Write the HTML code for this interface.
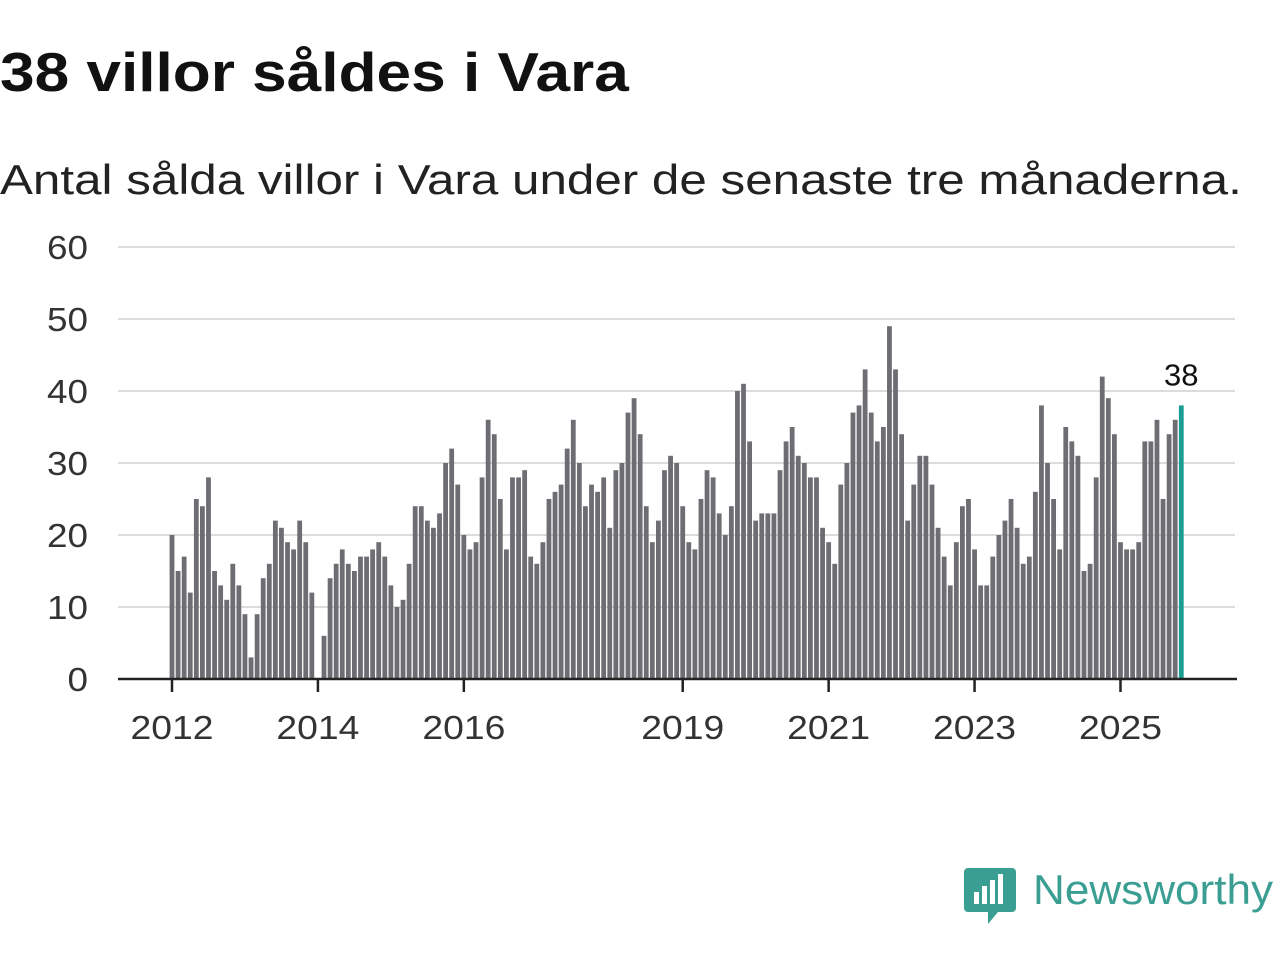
<!DOCTYPE html>
<html><head><meta charset="utf-8">
<style>
body{margin:0;width:1280px;height:960px;background:#fff;font-family:"Liberation Sans",sans-serif;overflow:hidden;position:relative}
h1{position:absolute;left:0;top:40px;margin:0;font-size:55px;font-weight:bold;color:#111;white-space:nowrap;transform:scaleX(1.13);transform-origin:0 0}
.sub{position:absolute;left:0;top:156px;font-size:42px;color:#222;white-space:nowrap;transform:scaleX(1.175);transform-origin:0 0}
svg{position:absolute;left:0;top:0}
</style></head><body>
<h1>38 villor såldes i Vara</h1>
<div class="sub">Antal sålda villor i Vara under de senaste tre månaderna.</div>
<svg id="chart" width="1280" height="960"></svg>
<script>
const startYear = 2012;
const values = [
20,15,17,12,25,24,28,15,13,11,16,13,
9,3,9,14,16,22,21,19,18,22,19,12,
0,6,14,16,18,16,15,17,17,18,19,17,
13,10,11,16,24,24,22,21,23,30,32,27,
20,18,19,28,36,34,25,18,28,28,29,17,
16,19,25,26,27,32,36,30,24,27,26,28,
21,29,30,37,39,34,24,19,22,29,31,30,
24,19,18,25,29,28,23,20,24,40,41,33,
22,23,23,23,29,33,35,31,30,28,28,21,
19,16,27,30,37,38,43,37,33,35,49,43,
34,22,27,31,31,27,21,17,13,19,24,25,
18,13,13,17,20,22,25,21,16,17,26,38,
30,25,18,35,33,31,15,16,28,42,39,34,
19,18,18,19,33,33,36,25,34,36,38];
const yTicks = [0,10,20,30,40,50,60];
const xTickYears = [2012,2014,2016,2019,2021,2023,2025];

const NS="http://www.w3.org/2000/svg";
const svg=document.getElementById('chart');
const y0=679, pxPerUnit=7.2, x0=172, pxPerMonth=6.08;
const yScale=v=>y0-v*pxPerUnit;
const xScale=i=>x0+i*pxPerMonth;
function mk(tag,attrs){const e=document.createElementNS(NS,tag);for(const k in attrs)e.setAttribute(k,attrs[k]);svg.appendChild(e);return e;}

yTicks.forEach(t=>{
  if(t>0){const g=mk('line',{x1:118,x2:1235,y1:yScale(t),y2:yScale(t),stroke:'#dcdcdc','stroke-width':2});
  
  }
  const tx=mk('text',{x:88,y:yScale(t)+12,'text-anchor':'end','font-size':33,fill:'#333','font-family':'Liberation Sans, sans-serif',textLength:(String(t).length*20.5),lengthAdjust:'spacingAndGlyphs'});
  tx.textContent=t;
  
  
});

values.forEach((v,i)=>{
  const last=i===values.length-1;
  const r=mk('rect',{x:xScale(i)-2.4,y:yScale(v),width:4.8,height:v*pxPerUnit,fill:last?'#1a9e94':'#6e6d73'});
  
  
});
const li=values.length-1;
const lab=mk('text',{x:xScale(li),y:yScale(values[li])-20,'text-anchor':'middle','font-size':31,fill:'#111','font-family':'Liberation Sans, sans-serif'});
lab.textContent=values[li];



const ax=mk('line',{x1:118,x2:1237,y1:y0,y2:y0,stroke:'#222','stroke-width':2.5});



xTickYears.forEach(yr=>{
  const x=xScale((yr-startYear)*12);
  const tk=mk('line',{x1:x,x2:x,y1:y0,y2:y0+13,stroke:'#222','stroke-width':2.5});
  
  
  const tx=mk('text',{x:x,y:739,'text-anchor':'middle','font-size':33,fill:'#333','font-family':'Liberation Sans, sans-serif',textLength:83,lengthAdjust:'spacingAndGlyphs'});
  tx.textContent=yr;
  
  
});
</script>
<svg width="1280" height="960" style="position:absolute;left:0;top:0;pointer-events:none">
<g>
<path d="M968 868 h44 a4 4 0 0 1 4 4 v36 a4 4 0 0 1 -4 4 h-14 l-10 12 v-12 h-20 a4 4 0 0 1 -4 -4 v-36 a4 4 0 0 1 4 -4z" fill="#3a9f92"/>
<rect x="974" y="892" width="5" height="12" fill="#fff"/>
<rect x="982" y="886" width="5" height="18" fill="#fff"/>
<rect x="990" y="880" width="5" height="24" fill="#fff"/>
<rect x="998" y="874" width="5" height="30" fill="#fff"/>
<text x="1033" y="904" font-size="42" fill="#3a9f92" font-family="Liberation Sans, sans-serif" textLength="240" lengthAdjust="spacingAndGlyphs">Newsworthy</text>
</g>
</svg>
</body></html>
